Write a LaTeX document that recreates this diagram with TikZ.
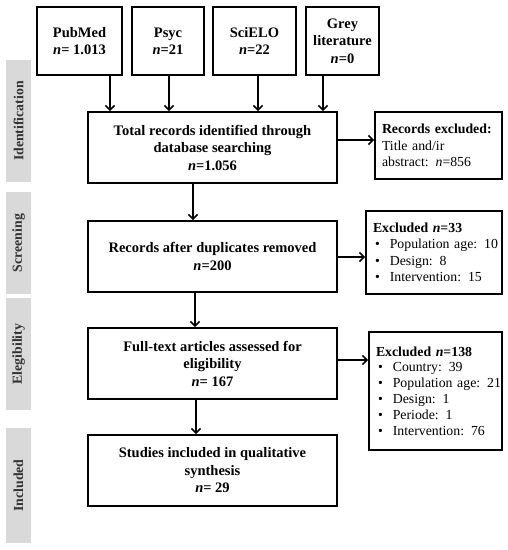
\documentclass[tikz,border=0pt]{standalone}
\usepackage{fontspec}
\setmainfont{Liberation Serif}
\usetikzlibrary{arrows.meta}
\newcommand\bul[1]{\mbox{\hspace*{2pt}\textbullet\hspace{10pt}#1}}

\tikzset{
	box/.style={draw, line width=1.8pt, inner sep=0pt, align=center, font=\fontsize{14.5}{17.5}\selectfont\bfseries},
	exbox/.style={draw, line width=1.8pt, inner xsep=7pt, inner ysep=0pt, align=left, font=\fontsize{13.8}{16.5}\selectfont},
	phase/.style={fill=black!15, text=black!80, rotate=90, inner sep=0pt, minimum height=25pt, font=\fontsize{13.8}{16}\selectfont\bfseries},
	arr/.style={line width=1.8pt, -{Straight Barb[length=4.5pt,width=9pt,line width=1.6pt]}}
}

\begin{document}
\begin{tikzpicture}[x=1pt, y=-1pt]
		%%%%% START %%%%%
		\useasboundingbox (0,0) rectangle (508,550);
		
		% phases
		\node[phase, minimum width=122pt] (ph1) at (18.5,121) {Identification};
		\node[phase, minimum width=102pt] (ph2) at (18.5,243) {Screening};
		\node[phase, minimum width=112pt] (ph3) at (18.5,354) {Elegibility};
		\node[phase, minimum width=115pt] (ph4) at (18.5,485.5) {Included};
		
		% sources
		\node[box, minimum width=85pt, minimum height=67.5pt] (pub) at (79.5,41) {PubMed\\\textit{n}= 1.013};
		\node[box, minimum width=72pt, minimum height=67.5pt] (psyc) at (168,41) {Psyc\\\textit{n}=21};
		\node[box, minimum width=83pt, minimum height=67.5pt] (sci) at (254.5,41) {SciELO\\\textit{n}=22};
		\node[box, minimum width=73pt, minimum height=67.5pt] (grey) at (342.5,41) {Grey\\literature\\\textit{n}=0};
		
		% main flow
		\node[box, minimum width=249pt, minimum height=71pt] (total) at (212.5,147.5) {Total records identified through\\database searching\\\textit{n}=1.056};
		\node[box, minimum width=249pt, minimum height=71pt] (dup) at (212.5,256.5) {Records after duplicates removed\\\textit{n}=200};
		\node[box, minimum width=249pt, minimum height=71pt] (full) at (212.5,363.5) {Full-text articles assessed for\\eligibility\\\textit{n}= 167};
		\node[box, minimum width=249pt, minimum height=71pt] (incl) at (212.5,470.5) {Studies included in qualitative\\synthesis\\\textit{n}= 29};
		
		% exclusions
		\node[exbox, text width=113pt, minimum height=67pt] (ex1) at (438.5,145.5) {\textbf{Records excluded:}\\Title and/ir\\abstract: \textit{n}=856};
		\node[exbox, text width=122pt, minimum height=83pt] (ex2) at (434,252.5) {\textbf{Excluded \textit{n}=33}\\\bul{Population age: 10}\\\bul{Design: 8}\\\bul{Intervention: 15}};
		\node[exbox, text width=119pt, minimum height=118pt, font=\fontsize{13.8}{15.8}\selectfont] (ex3) at (435.5,391) {\textbf{Excluded \textit{n}=138}\\\bul{Country: 39}\\\bul{Population age: 21}\\\bul{Design: 1}\\\bul{Periode: 1}\\\bul{Intervention: 76}};
		
		% arrows
		\draw[arr] ([xshift=30.5pt]pub.south) -- ([xshift=30.5pt]pub.south |- total.north);
		\draw[arr] ([xshift=1pt]psyc.south) -- ([xshift=1pt]psyc.south |- total.north);
		\draw[arr] ([xshift=3.5pt]sci.south) -- ([xshift=3.5pt]sci.south |- total.north);
		\draw[arr] ([xshift=-19.5pt]grey.south) -- ([xshift=-19.5pt]grey.south |- total.north);
		
		\draw[arr] ([xshift=-19.5pt]total.south) -- ([xshift=-19.5pt]dup.north);
		\draw[arr] ([xshift=-17.5pt]dup.south) -- ([xshift=-17.5pt]full.north);
		\draw[arr] ([xshift=-16.5pt]full.south) -- ([xshift=-16.5pt]incl.north);
		
		\draw[arr] ([yshift=7.5pt]total.east) -- ([yshift=7.5pt]total.east -| ex1.west);
		\draw[arr] ([yshift=-0.5pt]dup.east) -- ([yshift=-0.5pt]dup.east -| ex2.west);
		\draw[arr] ([yshift=3.5pt]full.east) -- ([yshift=3.5pt]full.east -| ex3.west);
		
		%%%%% END %%%%%
	\end{tikzpicture}
\end{document}
